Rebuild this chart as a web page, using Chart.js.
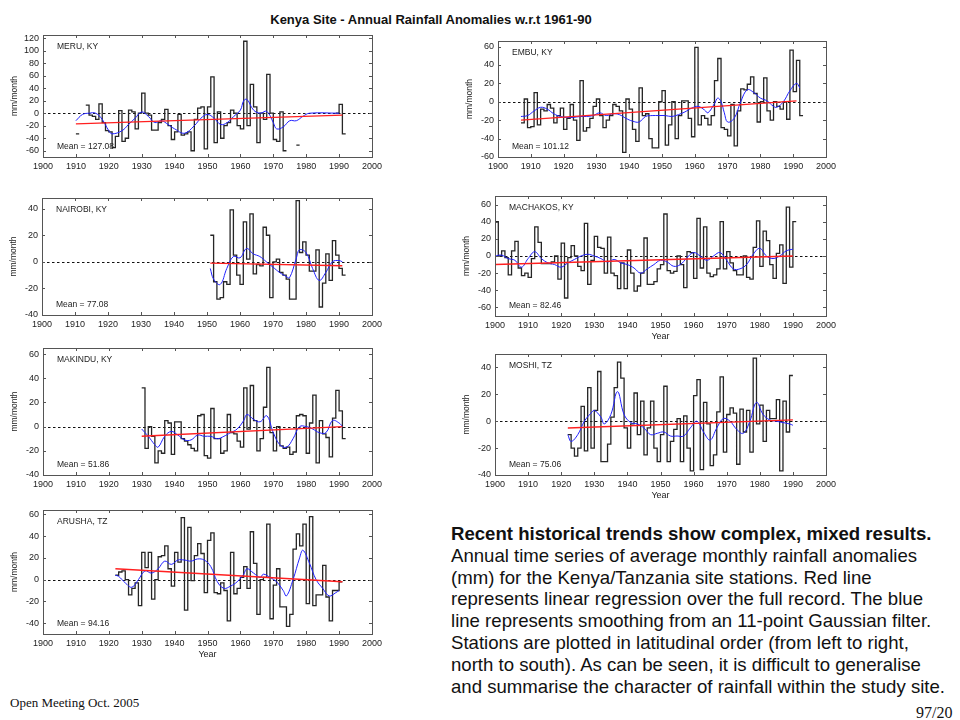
<!DOCTYPE html>
<html><head><meta charset="utf-8">
<script src="https://cdn.jsdelivr.net/npm/chart.js@4.4.1/dist/chart.umd.min.js"></script>
<style>
html,body{margin:0;padding:0;background:#fff}
body{width:960px;height:720px;position:relative;overflow:hidden;font-family:Arial,"Liberation Sans",Helvetica,sans-serif;color:#000}
.panel{position:absolute}
.panel canvas{display:block}
#title{position:absolute;left:0;width:862px;top:12px;text-align:center;font-weight:bold;font-size:13px;line-height:16px;color:#111}
#caption{position:absolute;left:451px;top:523px;font-size:18.6px;line-height:21.8px;white-space:nowrap;color:#111}
#footer{position:absolute;left:10px;top:695px;font-family:"Liberation Serif","Times New Roman",serif;font-size:13px;line-height:16px;color:#111}
#page{position:absolute;left:916px;top:703px;font-family:"Liberation Serif","Times New Roman",serif;font-size:16px;line-height:20px;color:#111}
</style></head>
<body>
<div id="title">Kenya Site - Annual Rainfall Anomalies w.r.t 1961-90</div>
<div id="caption"><b>Recent historical trends show complex, mixed results.</b><br>Annual time series of average monthly rainfall anomalies<br>(mm) for the Kenya/Tanzania site stations. Red line<br>represents linear regression over the full record. The blue<br>line represents smoothing from an 11-point Gaussian filter.<br>Stations are plotted in latitudinal order (from left to right,<br>north to south). As can be seen, it is difficult to generalise<br>and summarise the character of rainfall within the study site.</div>
<div id="footer">Open Meeting Oct. 2005</div>
<div id="page">97/20</div>
<script>
// ---------- tick labels ----------
const yearTicks = [1900,1910,1920,1930,1940,1950,1960,1970,1980,1990,2000];
const meruYTicks = [-60,-40,-20,0,20,40,60,80,100,120];
const embuYTicks = [-60,-40,-20,0,20,40,60];
const nairobiYTicks = [-40,-20,0,20,40];
const machakosYTicks = [-60,-40,-20,0,20,40,60];
const makinduYTicks = [-40,-20,0,20,40,60];
const moshiYTicks = [-40,-20,0,20,40];
const arushaYTicks = [-40,-20,0,20,40,60];

// ---------- station labels ----------
const stationNames = ['MERU, KY','EMBU, KY','NAIROBI, KY','MACHAKOS, KY','MAKINDU, KY','MOSHI, TZ','ARUSHA, TZ'];
const stationMeans = ['127.08','101.12','77.08','82.46','51.86','75.06','94.16'];

// ---------- annual anomalies (mm/month), one value per year from the start year ----------
const meruStart = 1910;
const meruValues = [-33,null,null,13,-3,-5,-10,15,-15,-28,
  -30,-55,-37,4,-45,-40,5,2,-25,0,
  32,0,-3,-27,-27,-15,-10,6,-20,-42,
  -30,-2,-35,-33,-30,-60,-10,8,10,-57,
  10,58,-47,2,-40,-20,-15,5,0,-20,
  -25,115,-20,46,10,-47,0,-10,62,0,
  -42,-45,2,-60,null,null,null,-51,null,null,
  null,null,null,null,null,null,null,null,null,0,
  14,-33];
const embuStart = 1907;
const embuValues = [-23,3,-28,-27,10,-25,-8,-10,-3,-7,
  -23,-15,-7,-30,-18,-3,-20,-42,23,-32,
  -28,-18,-5,3,-15,-28,-20,-15,-3,-5,
  -10,-55,3,-8,-30,-43,15,-15,-13,-40,
  -50,-50,0,12,-47,-25,0,-40,-15,1,
  1,-18,-38,59,-25,-15,-18,-25,-15,23,
  47,-28,-30,-37,-3,-48,-10,14,13,19,
  27,9,-22,0,26,-10,-20,0,-5,-8,
  0,-19,56,11,45,-15];
const nairobiStart = 1951;
const nairobiValues = [20,-15,-28,-27,-15,-17,39,5,-10,-17,
  30,2,36,-9,-2,-3,26,20,-27,0,
  2,-8,-10,-13,-28,-28,46,7,15,5,
  -7,-7,9,-34,-16,6,-14,16,5,-5,
  -10];
const machakosStart = 1900;
const machakosValues = [40,0,6,-2,-22,6,17,-14,-23,-20,
  -25,-3,34,16,-9,-9,-9,-7,0,-27,
  15,-49,-2,12,0,-12,-17,38,-33,-5,
  23,10,9,-20,22,-20,-23,-38,-8,-38,
  7,-20,-41,-35,-20,21,-33,-33,-30,-15,
  -10,49,-17,-20,-18,0,-10,-37,5,4,
  -26,44,-14,34,-20,-24,-22,-15,40,-15,
  5,-8,-17,-22,-22,0,-25,-27,10,41,
  -12,29,18,-10,-26,3,13,-32,57,-13,
  40];
const makinduStart = 1930;
const makinduValues = [32,-18,0,-8,-30,-20,-22,5,3,-23,
  4,4,-10,-12,-15,-18,-20,9,10,-24,
  -26,15,-10,-10,-22,-20,10,-5,-6,-12,
  -17,32,-2,34,5,-20,-10,16,49,-5,
  -20,0,-16,-18,-17,-23,-21,9,10,9,
  -22,3,26,-30,5,-6,-9,-25,7,30,
  13,-10];
const moshiStart = 1922;
const moshiValues = [-10,-20,-26,-20,11,-22,25,-20,
  8,37,-30,-30,-17,3,25,44,32,-5,
  -20,-2,21,-10,15,-25,-5,15,-20,-30,
  -10,26,-30,-15,-6,2,-30,4,-20,-37,
  19,31,-36,14,-2,-33,-25,7,33,-23,
  5,10,6,-32,9,-8,8,-23,47,-2,
  12,-15,8,2,2,16,-37,15,-8,34];
const arushaStart = 1922;
const arushaValues = [4,7,8,0,-14,-8,-3,-24,
  25,11,25,-18,0,21,22,31,10,-6,
  25,16,57,-28,48,-1,22,33,24,-12,
  36,43,-12,-13,-3,-10,-38,25,-13,-8,
  2,12,-8,44,15,-32,0,2,51,-36,
  -5,10,-25,-25,-43,-32,28,42,31,51,
  -22,58,-24,-14,-14,13,-16,-38,-10,-10,
  -2];

// ---------- 11-point Gaussian smoothing (blue) ----------
const meruSmoothYears = [1910,1912,1914,1916,1918,1920,1921,1924,1926,1928,1930,1932,1934,1936,1938,1940,1943,1946,1948,1950,1952,1954,1956,1958,1960,1961,1962,1964,1966,1968,1970,1971,1973,1975,1977,1979,1981,1990];
const meruSmoothValues = [-12,-2,0,0,-10,-28,-33,-28,-18,-8,2,-5,-15,-12,-18,-25,-32,-20,-8,-2,-8,-18,-15,-5,5,20,22,5,0,3,-15,-25,-22,-12,-12,-5,0,0];
const embuSmoothYears = [1907,1909,1911,1913,1915,1917,1919,1921,1923,1925,1927,1929,1931,1933,1935,1937,1939,1941,1943,1945,1947,1949,1951,1953,1955,1957,1959,1961,1963,1964,1966,1967,1968,1969,1970,1972,1974,1976,1978,1980,1982,1984,1985,1987,1989,1991,1992];
const embuSmoothValues = [-16,-15,-10,-6,-8,-13,-16,-17,-17,-16,-16,-15,-12,-15,-13,-14,-18,-21,-22,-16,-15,-15,-15,-16,-14,-11,-7,-5,-9,-12,-2,4,0,-12,-22,-18,0,13,10,4,1,-5,-6,0,12,20,15];
const nairobiSmoothYears = [1951,1952,1954,1956,1958,1960,1962,1964,1966,1968,1970,1972,1974,1975,1977,1978,1980,1982,1984,1986,1988,1990,1991];
const nairobiSmoothValues = [-5,-13,-17,-5,4,3,10,6,4,0,-4,-8,-11,-12,2,9,7,-5,-14,-8,0,1,0];
const machakosSmoothYears = [1900,1902,1904,1906,1908,1910,1912,1914,1916,1918,1920,1922,1924,1926,1928,1930,1932,1934,1936,1938,1940,1942,1944,1946,1948,1950,1952,1954,1956,1958,1960,1962,1964,1966,1968,1970,1972,1974,1976,1978,1980,1982,1984,1986,1988,1990];
const machakosSmoothValues = [0,1,-3,-5,-13,-3,5,-3,-8,-10,-13,-8,-4,0,2,0,-3,-7,-4,-8,-10,-14,-20,-15,-10,-5,-7,-12,-10,-2,4,0,-5,0,4,-5,-15,-15,-10,2,9,0,-3,0,6,8];
const makinduSmoothYears = [1930,1932,1934,1935,1937,1939,1941,1943,1945,1947,1949,1951,1953,1955,1957,1959,1961,1962,1964,1966,1968,1970,1972,1974,1976,1978,1980,1982,1984,1986,1988,1990,1991];
const makinduSmoothValues = [-2,-8,-15,-17,-8,-4,-7,-11,-11,-7,-8,-8,-10,-8,-5,-2,5,10,6,4,9,-5,-15,-17,-10,0,0,-2,-5,-5,5,3,0];
const moshiSmoothYears = [1922,1923,1925,1927,1929,1930,1932,1933,1935,1937,1939,1941,1943,1945,1947,1949,1951,1953,1955,1957,1959,1961,1963,1965,1967,1969,1971,1973,1975,1977,1979,1981,1983,1985,1987,1989,1990];
const moshiSmoothValues = [-10,-15,-10,0,6,8,3,-2,5,22,5,-1,-2,-5,-10,-9,-8,-11,-11,-11,-5,0,-8,-14,-5,2,0,-6,-9,0,14,5,1,0,-1,-2,-3];
const arushaSmoothYears = [1922,1923,1925,1927,1929,1931,1933,1935,1937,1939,1941,1943,1945,1947,1949,1951,1953,1955,1957,1959,1961,1962,1964,1966,1967,1969,1971,1973,1974,1976,1978,1979,1981,1983,1985,1987,1989,1990];
const arushaSmoothValues = [4,3,-3,-7,0,8,6,10,17,14,18,18,17,19,18,12,-2,-8,-6,-2,5,10,6,2,5,2,-2,-10,-15,0,20,27,15,0,-8,-15,-12,-10];

// ---------- linear regression (red), end points ----------
const meruTrendYears = [1910,1991],     meruTrendValues = [-17,-3];
const embuTrendYears = [1907,1991],     embuTrendValues = [-20,1];
const nairobiTrendYears = [1951,1991],  nairobiTrendValues = [-1,-3];
const machakosTrendYears = [1900,1990], machakosTrendValues = [-10,0];
const makinduTrendYears = [1930,1991],  makinduTrendValues = [-8,0];
const moshiTrendYears = [1922,1990],    moshiTrendValues = [-5,1];
const arushaTrendYears = [1922,1991],   arushaTrendValues = [10,-2];

// ---------- panel layout (positions only) ----------
const panels = [
  {box:[43,35,372,157],  yMin:-70, yMax:125, yTicks:meruYTicks,     xTitle:false, start:meruStart, values:meruValues, sy:meruSmoothYears, sv:meruSmoothValues, ty:meruTrendYears, tv:meruTrendValues},
  {box:[498,41,826,157], yMin:-60, yMax:66,  yTicks:embuYTicks,     xTitle:false, start:embuStart, values:embuValues, sy:embuSmoothYears, sv:embuSmoothValues, ty:embuTrendYears, tv:embuTrendValues},
  {box:[42,198,372,315], yMin:-40, yMax:48,  yTicks:nairobiYTicks,  xTitle:false, start:nairobiStart, values:nairobiValues, sy:nairobiSmoothYears, sv:nairobiSmoothValues, ty:nairobiTrendYears, tv:nairobiTrendValues},
  {box:[495,196,826,316],yMin:-70, yMax:70,  yTicks:machakosYTicks, xTitle:true,  start:machakosStart, values:machakosValues, sy:machakosSmoothYears, sv:machakosSmoothValues, ty:machakosTrendYears, tv:machakosTrendValues},
  {box:[43,348,372,475], yMin:-40, yMax:65,  yTicks:makinduYTicks,  xTitle:false, start:makinduStart, values:makinduValues, sy:makinduSmoothYears, sv:makinduSmoothValues, ty:makinduTrendYears, tv:makinduTrendValues},
  {box:[495,354,826,475],yMin:-40, yMax:50,  yTicks:moshiYTicks,    xTitle:true,  start:moshiStart, values:moshiValues, sy:moshiSmoothYears, sv:moshiSmoothValues, ty:moshiTrendYears, tv:moshiTrendValues},
  {box:[43,510,372,634], yMin:-50, yMax:64,  yTicks:arushaYTicks,   xTitle:true,  start:arushaStart, values:arushaValues, sy:arushaSmoothYears, sv:arushaSmoothValues, ty:arushaTrendYears, tv:arushaTrendValues}
];

function stairPoints(start, values){
  const pts = [];
  values.forEach((v,i)=>{
    const yr = start + i;
    if (v === null) pts.push({x:yr, y:null});
    else { pts.push({x:yr, y:v}); pts.push({x:yr+1, y:v}); }
  });
  return pts;
}
function pairPoints(xs, ys){ return xs.map((x,i)=>({x:x, y:ys[i]})); }

const FONT = 'Arial, "Liberation Sans", sans-serif';
const INK = '#222';

panels.forEach((p, idx)=>{
  const [L,T,R,B] = p.box;
  const yW = 40, padT = 8, padR = 18, xH = p.xTitle ? 26 : 18;
  const w = R - L + yW + padR, h = B - T + padT + xH;
  const wrap = document.createElement('div');
  wrap.className = 'panel';
  wrap.style.left = (L - yW) + 'px'; wrap.style.top = (T - padT) + 'px';
  wrap.style.width = w + 'px'; wrap.style.height = h + 'px';
  const c = document.createElement('canvas');
  c.width = w; c.height = h; c.style.width = w + 'px'; c.style.height = h + 'px';
  wrap.appendChild(c); document.body.appendChild(wrap);

  const decor = {
    id: 'decor' + idx,
    beforeDatasetsDraw(chart){
      const {ctx, chartArea:a, scales:{y}} = chart;
      const y0 = Math.round(y.getPixelForValue(0)) + 0.5;
      ctx.save();
      ctx.strokeStyle = '#111'; ctx.lineWidth = 1; ctx.setLineDash([2.5,2.5]);
      ctx.beginPath(); ctx.moveTo(a.left, y0); ctx.lineTo(a.right, y0); ctx.stroke();
      ctx.restore();
    },
    afterDatasetsDraw(chart){
      const {ctx, chartArea:a, scales:{x, y}} = chart;
      ctx.save();
      ctx.strokeStyle = '#555'; ctx.lineWidth = 1;
      ctx.strokeRect(Math.round(a.left)+0.5, Math.round(a.top)+0.5, Math.round(a.right-a.left), Math.round(a.bottom-a.top));
      ctx.beginPath();
      yearTicks.forEach(v=>{
        const px = Math.round(x.getPixelForValue(v)) + 0.5;
        ctx.moveTo(px, a.bottom); ctx.lineTo(px, a.bottom - 3);
        ctx.moveTo(px, a.top); ctx.lineTo(px, a.top + 3);
      });
      p.yTicks.forEach(v=>{
        const py = Math.round(y.getPixelForValue(v)) + 0.5;
        ctx.moveTo(a.left, py); ctx.lineTo(a.left + 3, py);
        ctx.moveTo(a.right, py); ctx.lineTo(a.right - 3, py);
      });
      ctx.stroke();
      ctx.fillStyle = INK; ctx.font = '8.5px ' + FONT; ctx.textBaseline = 'middle'; ctx.textAlign = 'left';
      ctx.fillText(stationNames[idx], a.left + 14, a.top + 12);
      ctx.fillText('Mean = ' + stationMeans[idx], a.left + 14, a.bottom - 10);
      ctx.restore();
    }
  };

  new Chart(c, {
    type: 'line',
    data: { datasets: [
      {data: pairPoints(p.ty, p.tv), borderColor:'#ff2020', borderWidth:1.4, pointRadius:0, tension:0},
      {data: pairPoints(p.sy, p.sv), borderColor:'#2020ff', borderWidth:1, pointRadius:0, tension:0.4},
      {data: stairPoints(p.start, p.values), borderColor:'#262626', borderWidth:1.3, pointRadius:0, tension:0, spanGaps:false}
    ]},
    options: {
      responsive:false, animation:false, events:[],
      layout:{padding:{top:padT, right:padR, left:0, bottom:0}},
      plugins:{legend:{display:false}, tooltip:{enabled:false}},
      scales:{
        x:{type:'linear', min:1900, max:2000,
           afterBuildTicks: s=>{ s.ticks = yearTicks.map(v=>({value:v})); },
           ticks:{font:{size:9, family:FONT}, color:INK, padding:4, maxRotation:0, autoSkip:false, callback:v=>String(v)},
           grid:{display:false, drawTicks:false}, border:{display:false},
           title:{display:p.xTitle, text:'Year', font:{size:9, family:FONT}, color:INK, padding:{top:0,bottom:0}},
           afterFit: s=>{ s.height = xH; s.paddingLeft = 0; s.paddingRight = 0; }},
        y:{type:'linear', min:p.yMin, max:p.yMax,
           afterBuildTicks: s=>{ s.ticks = p.yTicks.map(v=>({value:v})); },
           ticks:{font:{size:9, family:FONT}, color:INK, padding:4, autoSkip:false, callback:v=>String(v)},
           grid:{display:false, drawTicks:false}, border:{display:false},
           title:{display:true, text:'mm/month', font:{size:8.5, family:FONT}, color:INK, padding:{top:7,bottom:0}},
           afterFit: s=>{ s.width = yW; s.paddingTop = 0; s.paddingBottom = 0; }}
      }
    },
    plugins:[decor]
  });
});
</script>
</body></html>
